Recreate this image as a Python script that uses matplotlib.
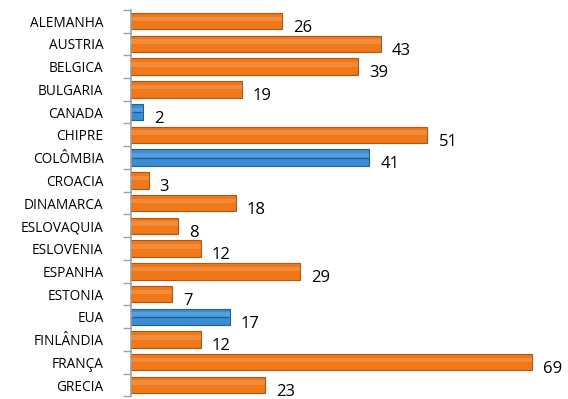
import matplotlib.pyplot as plt
import numpy as np

paises = ["ALEMANHA", "AUSTRIA", "BELGICA", "BULGARIA", "CANADA", "CHIPRE",
          "COLÔMBIA", "CROACIA", "DINAMARCA", "ESLOVAQUIA", "ESLOVENIA",
          "ESPANHA", "ESTONIA", "EUA", "FINLÂNDIA", "FRANÇA", "GRECIA"]
valores = [26, 43, 39, 19, 2, 51, 41, 3, 18, 8, 12, 29, 7, 17, 12, 69, 23]
fora_europa = ["CANADA", "COLÔMBIA", "EUA"]

laranja = "#F07818"
laranja_borda = "#B5540C"
azul = "#3B8ED6"
azul_borda = "#1F5E96"

fig = plt.figure(figsize=(5.68, 3.99), dpi=100)
ax = fig.add_axes([0.231, 0.0065, 0.765, 0.969])

y = np.arange(len(paises))
cores = [azul if p in fora_europa else laranja for p in paises]
bordas = [azul_borda if p in fora_europa else laranja_borda for p in paises]

ax.barh(y, valores, height=0.72, color=cores, edgecolor=bordas, linewidth=0.8, zorder=2)
# brilho para imitar o cilindro
ax.barh(y - 0.1, valores, height=0.2, color="white", alpha=0.15, linewidth=0, zorder=3)
for yi, v, p in zip(y, valores, paises):
    if p in fora_europa:
        ax.plot([0.3, v - 0.3], [yi, yi], color=azul_borda, lw=1.0, zorder=4)
    ax.text(v + 1.9, yi + 0.3, str(v), fontsize=12, va="center", ha="left",
            family="Open Sans")

ax.set_xlim(0, 74.8)
ax.set_ylim(len(paises) - 0.5, -0.5)
ax.set_yticks(y)
ax.set_yticklabels(paises, fontsize=9.8, family="Open Sans")
ax.set_yticks(np.arange(len(paises) + 1) - 0.5, minor=True)
ax.tick_params(axis="y", which="major", length=0, pad=20)
ax.tick_params(axis="y", which="minor", length=6, color="#A0A0A0", width=1)
ax.set_xticks([])
for s in ["top", "right", "bottom"]:
    ax.spines[s].set_visible(False)
ax.spines["left"].set_color("#A0A0A0")
ax.spines["left"].set_linewidth(1.2)

fig.savefig("out.png", dpi=100)
